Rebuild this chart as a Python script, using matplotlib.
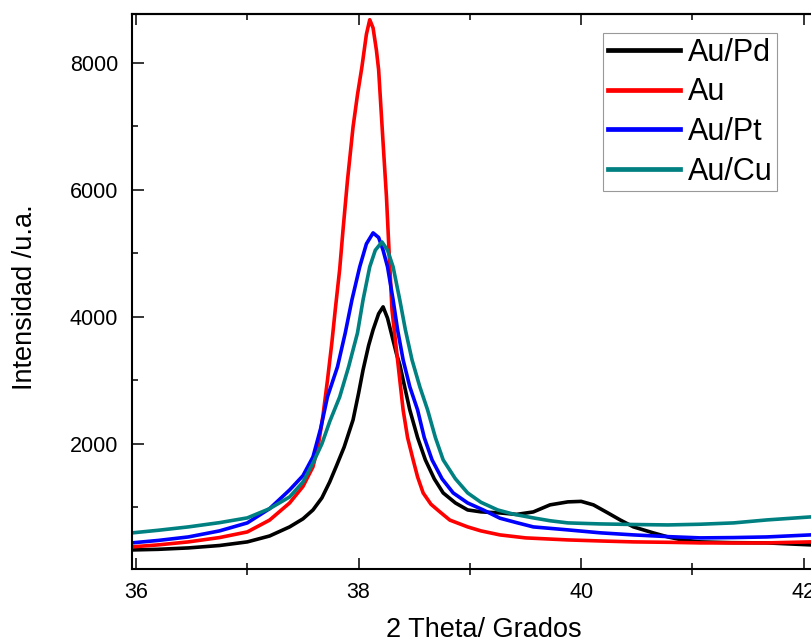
import matplotlib.pyplot as plt
from matplotlib.ticker import MultipleLocator

plt.rcParams['font.family'] = ['Liberation Sans', 'DejaVu Sans']

# Au/Pd (black)
x_pd = [35.96, 36.2, 36.47, 36.75, 37.0, 37.2, 37.38, 37.5, 37.59, 37.67, 37.74,
        37.80, 37.87, 37.95, 38.00, 38.04, 38.09, 38.13, 38.18, 38.22, 38.26,
        38.30, 38.34, 38.37, 38.42, 38.46, 38.53, 38.60, 38.68, 38.76, 38.87,
        38.98, 39.1, 39.27, 39.42, 39.57, 39.72, 39.88, 40.0, 40.11, 40.24,
        40.35, 40.47, 40.65, 40.78, 40.9, 41.07, 41.35, 41.67, 42.06, 42.2]
y_pd = [330, 340, 362, 400, 457, 550, 693, 820, 960, 1150, 1400,
        1650, 1950, 2378, 2800, 3165, 3550, 3796, 4050, 4158, 3980,
        3700, 3420, 3250, 2850, 2535, 2100, 1748, 1450, 1228, 1070,
        960, 930, 913, 890, 929, 1040, 1087, 1095, 1040, 913,
        803, 693, 598, 535, 490, 457, 445, 441, 410, 410]

# Au (red)
x_au = [35.96, 36.2, 36.47, 36.75, 37.0, 37.2, 37.38, 37.5, 37.59, 37.64, 37.68,
        37.72, 37.76, 37.79, 37.83, 37.86, 37.90, 37.95, 37.99, 38.03, 38.07,
        38.10, 38.13, 38.16, 38.18, 38.22, 38.25, 38.27, 38.30, 38.35, 38.40,
        38.44, 38.49, 38.53, 38.58, 38.65, 38.73, 38.82, 38.98, 39.1, 39.27,
        39.5, 39.88, 40.2, 40.47, 40.8, 41.07, 41.4, 41.67, 42.06, 42.2]
y_au = [378, 410, 457, 525, 614, 800, 1070, 1330, 1638, 2000, 2450,
        3000, 3600, 4110, 4750, 5370, 6150, 6990, 7500, 7940, 8450,
        8680, 8550, 8200, 7890, 6740, 5900, 5165, 4110, 3323, 2535,
        2100, 1748, 1480, 1228, 1050, 930, 800, 693, 630, 567,
        520, 488, 470, 457, 450, 441, 440, 441, 457, 460]

# Au/Pt (blue)
x_pt = [35.96, 36.2, 36.47, 36.75, 37.0, 37.2, 37.38, 37.5, 37.59, 37.66, 37.72,
        37.81, 37.88, 37.94, 38.01, 38.07, 38.13, 38.18, 38.22, 38.26, 38.31,
        38.35, 38.40, 38.46, 38.53, 38.59, 38.66, 38.75, 38.85, 38.98, 39.12,
        39.27, 39.42, 39.57, 39.88, 40.17, 40.47, 40.78, 41.07, 41.37, 41.67,
        42.06, 42.2]
y_pt = [441, 480, 535, 630, 756, 980, 1275, 1500, 1795, 2250, 2740,
        3213, 3748, 4268, 4788, 5150, 5323, 5250, 5050, 4788, 4268,
        3800, 3323, 2900, 2535, 2100, 1748, 1450, 1228, 1070, 960,
        830, 760, 693, 646, 600, 567, 540, 520, 525, 535,
        567, 570]

# Au/Cu (teal)
x_cu = [35.96, 36.2, 36.47, 36.75, 37.0, 37.2, 37.38, 37.5, 37.59, 37.67, 37.74,
        37.83, 37.91, 37.99, 38.04, 38.10, 38.15, 38.21, 38.26, 38.31, 38.37,
        38.42, 38.48, 38.55, 38.62, 38.69, 38.76, 38.87, 38.98, 39.1, 39.25,
        39.4, 39.57, 39.72, 39.88, 40.17, 40.5, 40.78, 41.07, 41.37, 41.67,
        42.06, 42.2]
y_cu = [598, 640, 693, 760, 835, 980, 1165, 1400, 1700, 2000, 2350,
        2740, 3213, 3748, 4268, 4788, 5050, 5181, 5050, 4788, 4268,
        3800, 3323, 2900, 2535, 2100, 1748, 1450, 1228, 1080, 960,
        890, 835, 790, 756, 740, 730, 724, 735, 756, 803,
        850, 855]

series = [(x_pd, y_pd, 'black', 'Au/Pd'),
          (x_au, y_au, '#ff0000', 'Au'),
          (x_pt, y_pt, '#0000ff', 'Au/Pt'),
          (x_cu, y_cu, '#008080', 'Au/Cu')]

fig = plt.figure(figsize=(8.11, 6.42), dpi=100)
ax = fig.add_axes([0.1628, 0.1137, 0.8557, 0.8645])

for xs, ys, c, lab in series:
    ax.plot(xs, ys, color=c, lw=2.6, label=lab)

ax.set_xlim(35.964, 42.2)
ax.set_ylim(30, 8770)

ax.xaxis.set_major_locator(MultipleLocator(2))
ax.xaxis.set_minor_locator(MultipleLocator(1))
ax.yaxis.set_major_locator(MultipleLocator(2000))
ax.yaxis.set_minor_locator(MultipleLocator(1000))

ax.tick_params(axis='x', which='major', direction='in', length=8, width=1.1,
               labelsize=15.5, pad=9)
ax.tick_params(axis='x', which='minor', direction='inout', length=8.6, width=1.1)
ax.tick_params(axis='y', which='major', direction='in', length=8.6, width=1.1,
               labelsize=15.5, pad=10)
ax.tick_params(axis='y', which='minor', direction='in', length=4.3, width=1.1)

for s in ax.spines.values():
    s.set_linewidth(1.5)

# ticks along the top edge, pointing in, no labels
top = ax.secondary_xaxis('top')
top.set_xticks([36, 38, 40, 42])
top.set_xticks([37, 39, 41], minor=True)
top.tick_params(which='major', direction='in', length=8, width=1.1, labeltop=False)
top.tick_params(which='minor', direction='in', length=4.3, width=1.1)
top.spines['top'].set_linewidth(1.5)

leg = ax.legend(loc='upper right', bbox_to_anchor=(777 / 811, 1 - 33 / 642),
                bbox_transform=fig.transFigure, fontsize=22, fancybox=False,
                borderpad=0.15, handlelength=2.35, handletextpad=0.26,
                labelspacing=0.32, borderaxespad=0)
leg.get_frame().set_edgecolor('#808080')
leg.get_frame().set_linewidth(0.8)
for line in leg.get_lines():
    line.set_linewidth(3.4)

fig.text(484 / 811, 1 - 637 / 642, '2 Theta/ Grados', ha='center', va='baseline', fontsize=19.5)
fig.text(25 / 811, 1 - 297 / 642, 'Intensidad /u.a.', ha='center', va='center',
         rotation='vertical', fontsize=19.5)

plt.savefig('out.png', dpi=100)
